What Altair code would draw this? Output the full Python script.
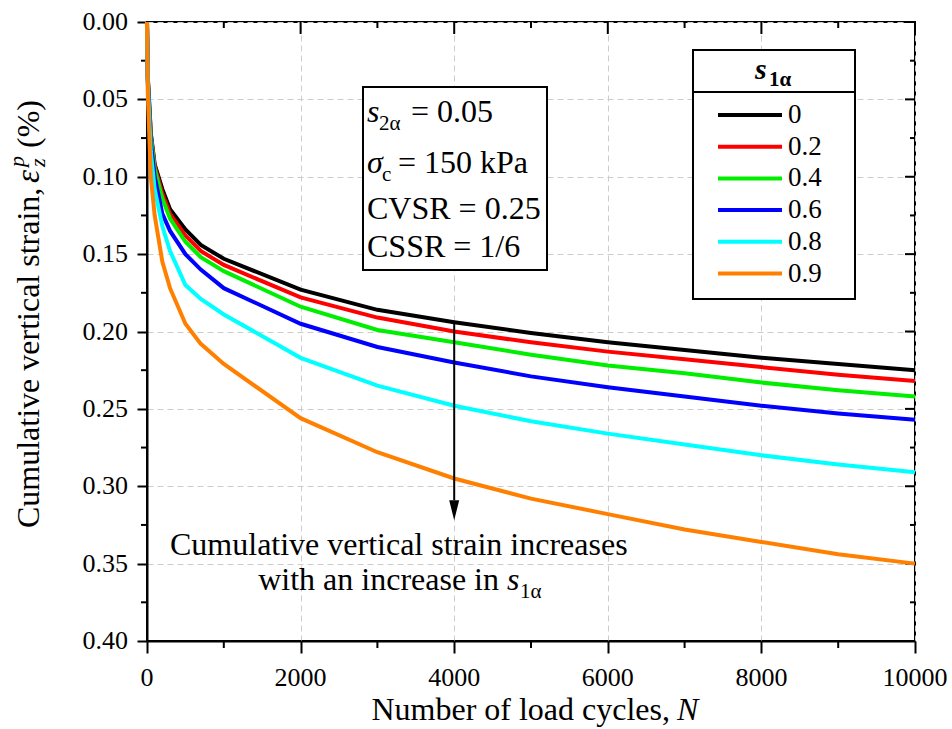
import altair as alt
import pandas as pd

# ---------------- data ----------------
N = [0, 10, 50, 100, 200, 300, 500, 700, 1000, 2000, 3000, 4000, 5000, 6000, 7000, 8000, 9000, 10000]
s1a_labels = ["0", "0.2", "0.4", "0.6", "0.8", "0.9"]
colors = ["#000000", "#ff0000", "#00ee00", "#0000ff", "#00ffff", "#ff8000"]
strain_0 = [0, 0.035, 0.072, 0.092, 0.108, 0.121, 0.134, 0.144, 0.153, 0.173, 0.186, 0.194, 0.201, 0.207, 0.212, 0.217, 0.221, 0.225]
strain_02 = [0, 0.036, 0.073, 0.093, 0.111, 0.124, 0.138, 0.148, 0.157, 0.178, 0.191, 0.200, 0.207, 0.213, 0.218, 0.223, 0.228, 0.232]
strain_04 = [0, 0.037, 0.075, 0.095, 0.114, 0.127, 0.142, 0.152, 0.161, 0.184, 0.199, 0.207, 0.215, 0.222, 0.227, 0.233, 0.238, 0.242]
strain_06 = [0, 0.038, 0.078, 0.100, 0.124, 0.135, 0.150, 0.160, 0.172, 0.195, 0.210, 0.220, 0.229, 0.236, 0.242, 0.248, 0.253, 0.257]
strain_08 = [0, 0.040, 0.084, 0.108, 0.132, 0.148, 0.170, 0.179, 0.189, 0.217, 0.235, 0.248, 0.258, 0.266, 0.273, 0.280, 0.286, 0.291]
strain_09 = [0, 0.045, 0.100, 0.125, 0.155, 0.172, 0.195, 0.208, 0.221, 0.256, 0.278, 0.295, 0.308, 0.318, 0.328, 0.336, 0.344, 0.350]
series = [strain_0, strain_02, strain_04, strain_06, strain_08, strain_09]

x_major = [0, 2000, 4000, 6000, 8000, 10000]
x_minor = [1000, 3000, 5000, 7000, 9000]
y_major = [0.0, 0.05, 0.10, 0.15, 0.20, 0.25, 0.30, 0.35, 0.40]
y_minor = [0.025, 0.075, 0.125, 0.175, 0.225, 0.275, 0.325, 0.375]

arrow_N = 4000
arrow_from = 0.194
arrow_to = 0.309
arrow_head = 0.3155

# ---------------- layout ----------------
W, H = 768, 619
L, T = 147, 22
FONT = "Liberation Serif"

rows = []
for lab, vals in zip(s1a_labels, series):
    for n, v in zip(N, vals):
        rows.append({"N": n, "strain": v, "s1a": lab})
df = pd.DataFrame(rows)

xs = alt.Scale(domain=[0, 10000], nice=False, zero=False)
ys = alt.Scale(domain=[0, 0.4], nice=False, reverse=True)

one = pd.DataFrame({"d": [0]})


def px(x):
    return alt.value(x - L)


def py(y):
    return alt.value(y - T)


def txt(text, x, y, size, style="normal", weight="normal", align="left", angle=0):
    return alt.Chart(one).mark_text(
        text=text, font=FONT, fontSize=size, fontStyle=style, fontWeight=weight,
        align=align, baseline="alphabetic", angle=angle, color="black"
    ).encode(x=px(x), y=py(y))


def box(x1, y1, x2, y2):
    return alt.Chart(one).mark_rect(fill="white", stroke="black", strokeWidth=2).encode(
        x=px(x1), x2=px(x2), y=py(y1), y2=py(y2))


axis_common = dict(title=None, labels=False,
                   domainColor="black", domainWidth=2, tickColor="black", tickWidth=2,
                   grid=True, gridColor="#cccccc", gridDash=[6, 4], gridWidth=1)

base_axes = alt.Chart(df).mark_line(opacity=0).encode(
    x=alt.X("N:Q", scale=xs, axis=alt.Axis(values=x_major, tickSize=12, **axis_common)),
    y=alt.Y("strain:Q", scale=ys, axis=alt.Axis(values=y_major, tickSize=10, **axis_common)),
)

# tick labels (drawn as text through the scales)
xlab_df = pd.DataFrame({"N": x_major, "lab": [str(v) for v in x_major]})
ylab_df = pd.DataFrame({"strain": y_major, "lab": [f"{v:.2f}" for v in y_major]})
XQ = alt.X("N:Q", scale=xs)
YQ = alt.Y("strain:Q", scale=ys)
xlabels = alt.Chart(xlab_df).mark_text(font=FONT, fontSize=26, baseline="alphabetic",
                                       align="center", color="black").encode(
    x=XQ, y=alt.value(H + 45), text="lab:N")
ylabels = alt.Chart(ylab_df).mark_text(font=FONT, fontSize=26, baseline="middle",
                                       align="right", color="black").encode(
    y=YQ, x=alt.value(-19), text="lab:N")

# minor / mirror ticks
xmin_df = pd.DataFrame({"N": x_minor})
xmaj_df = pd.DataFrame({"N": x_major})
ymin_df = pd.DataFrame({"strain": y_minor})
ymaj_df = pd.DataFrame({"strain": y_major})

tick_style = dict(color="black", strokeWidth=2)
ticks = [
    alt.Chart(xmin_df).mark_rule(**tick_style).encode(x=XQ, y=alt.value(H), y2=alt.value(H + 7)),
    alt.Chart(xmin_df).mark_rule(**tick_style).encode(x=XQ, y=alt.value(0), y2=alt.value(6)),
    alt.Chart(xmaj_df).mark_rule(**tick_style).encode(x=XQ, y=alt.value(0), y2=alt.value(12)),
    alt.Chart(ymin_df).mark_rule(**tick_style).encode(y=YQ, x=alt.value(-6), x2=alt.value(0)),
    alt.Chart(ymin_df).mark_rule(**tick_style).encode(y=YQ, x=alt.value(W - 5), x2=alt.value(W)),
    alt.Chart(ymaj_df).mark_rule(**tick_style).encode(y=YQ, x=alt.value(W - 10), x2=alt.value(W)),
]

lines = alt.Chart(df).mark_line(strokeWidth=4).encode(
    x=XQ,
    y=YQ,
    color=alt.Color("s1a:N", scale=alt.Scale(domain=s1a_labels, range=colors),
                    sort=s1a_labels, title=None,
                    legend=alt.Legend(orient="none", legendX=586, legendY=76,
                                      symbolType="M-2.1333,0H2.1333", symbolSize=900,
                                      symbolStrokeWidth=4,
                                      labelFont=FONT, labelFontSize=27, labelOffset=21,
                                      labelColor="black",
                                      rowPadding=1.7, padding=0)),
    order=alt.Order("N:Q"),
)

arrow_df = pd.DataFrame({"N": [arrow_N], "a": [arrow_from], "b": [arrow_to], "h": [arrow_head]})
arrow_line = alt.Chart(arrow_df).mark_rule(color="black", strokeWidth=2).encode(
    x=XQ, y=alt.Y("a:Q", scale=ys), y2="b:Q")
arrow_tip = alt.Chart(arrow_df).mark_point(
    shape="M-0.5,-1L0.5,-1L0,1Z", filled=True, size=400, color="black", opacity=1
).encode(x=XQ, y=alt.Y("h:Q", scale=ys))

layers = [base_axes, box(363, 87, 547, 270), box(693, 50, 855, 299)] + ticks + [
    alt.Chart(one).mark_rule(color="black", strokeWidth=2).encode(x=px(693), x2=px(855), y=py(92)),
    lines, arrow_line, arrow_tip, xlabels, ylabels,
    # legend title
    txt("s", 755, 79, 30, style="italic", weight="bold"),
    txt("1α", 769, 86, 21, weight="bold"),
    # parameter box
    txt("s", 367, 122, 32, style="italic"),
    txt("2α", 379, 130, 21),
    txt("= 0.05", 411, 122, 32),
    txt("σ", 367, 173, 32, style="italic"),
    txt("c", 382, 181, 21),
    txt("= 150 kPa", 398, 173, 32),
    txt("CVSR = 0.25", 367, 219, 32),
    txt("CSSR = 1/6", 367, 257, 32),
    # bottom annotation
    txt("Cumulative vertical strain increases", 170, 555, 32),
    txt("with an increase in", 499, 590, 32, align="right"),
    txt("s", 507, 590, 32, style="italic"),
    txt("1α", 520, 598, 21),
    # x title
    txt("Number of load cycles,", 670, 720, 32, align="right"),
    txt("N", 677, 720, 32, style="italic"),
    # y title (rotated)
    txt("Cumulative vertical strain,", 39, 528, 32, angle=270),
    txt("ε", 39, 183, 33, style="italic", angle=270),
    txt("p", 24, 167, 22, style="italic", angle=270),
    txt("z", 45, 167, 22, style="italic", angle=270),
    txt("(%)", 39, 148, 32, angle=270),
]

chart = alt.layer(*layers).properties(
    width=W, height=H,
    autosize=alt.AutoSizeParams(type="none"),
    padding={"left": L, "top": T, "right": 952 - L - W, "bottom": 729 - T - H},
    background="white",
).configure_view(stroke="black", strokeWidth=2).configure_legend(labelFont=FONT)

chart.save("out.html", embed_options={"renderer": "svg", "actions": False})
